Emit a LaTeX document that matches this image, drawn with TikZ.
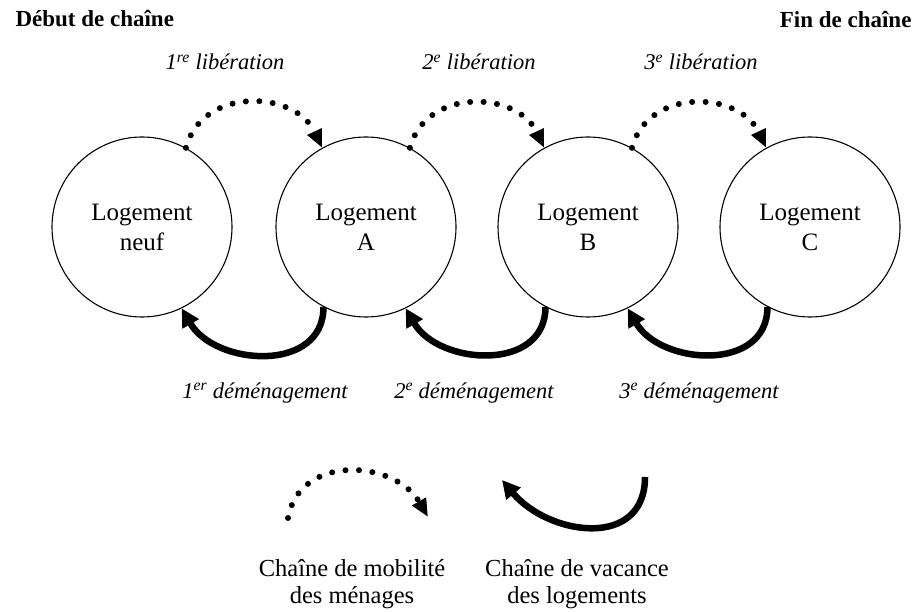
\documentclass[tikz,border=0pt]{standalone}
\usepackage{fontspec}
\setmainfont{Liberation Serif}
\usetikzlibrary{arrows.meta}
\tikzset{loge/.style={draw,circle,line width=1.1pt,minimum size=180pt,inner sep=0pt,align=center,font=\fontsize{25}{30}\selectfont}}
\tikzset{l/.style={font=\fontsize{22.5}{22.5}\selectfont\itshape}}
\tikzset{t/.style={font=\fontsize{23}{23}\selectfont\bfseries}}
\tikzset{leg/.style={align=center,inner sep=0pt,font=\fontsize{24.5}{27}\selectfont}}
\tikzset{mob/.style={line width=6pt,line cap=round,dash pattern=on 0pt off 13.5pt,-{Triangle[length=18pt,width=15pt]}}}
\tikzset{vac/.style={line width=6.5pt,-{Triangle[length=18pt,width=18pt]}}}

\begin{document}
\begin{tikzpicture}[line join=round, x=1pt, y=1pt]
            \useasboundingbox (0,0) rectangle (920,611);
            \node[loge] (neuf) at (142,384) {Logement\\neuf};
            \node[loge] (A) at (366,384) {Logement\\A};
            \node[loge] (B) at (588,384) {Logement\\B};
            \node[loge] (C) at (810,384) {Logement\\C};
            \node[t,anchor=base west] (deb) at (12,584) {Début de chaîne};
            \node[t,anchor=base east] (fin) at (915,583) {Fin de chaîne};
            \node[l,anchor=base] (lib1) at (225,541) {1\textsuperscript{re} libération};
            \node[l,anchor=base] (lib2) at (479,541) {2\textsuperscript{e} libération};
            \node[l,anchor=base] (lib3) at (701,541) {3\textsuperscript{e} libération};
            \node[l,anchor=base] (dem1) at (265,213) {1\textsuperscript{er} déménagement};
            \node[l,anchor=base] (dem2) at (474,213) {2\textsuperscript{e} déménagement};
            \node[l,anchor=base] (dem3) at (699,213) {3\textsuperscript{e} déménagement};
            \draw[mob] (neuf.61) to[out=75,in=115,looseness=1.2] (A.119);
            \draw[mob] (A.61) to[out=75,in=115,looseness=1.2] (B.119);
            \draw[mob] (B.61) to[out=75,in=115,looseness=1.2] (C.119);
            \draw[vac] (A.-118) to[out=-90,in=-60,looseness=1.2] (neuf.-64);
            \draw[vac] (B.-118) to[out=-90,in=-60,looseness=1.2] (A.-64);
            \draw[vac] (C.-118) to[out=-90,in=-60,looseness=1.2] (B.-64);
            \coordinate (m1) at (288,93);
            \coordinate (m2) at (428,94);
            \coordinate (v1) at (645,134);
            \coordinate (v2) at (502,131);
            \draw[mob] (m1) to[out=80,in=120,looseness=1.2] (m2);
            \draw[vac] (v1) to[out=-90,in=-50,looseness=1.3] (v2);
            \node[leg] (lmob) at (352,27) {Chaîne de mobilité\\des ménages};
            \node[leg] (lvac) at (577,27) {Chaîne de vacance\\des logements};
          \end{tikzpicture}
\end{document}
